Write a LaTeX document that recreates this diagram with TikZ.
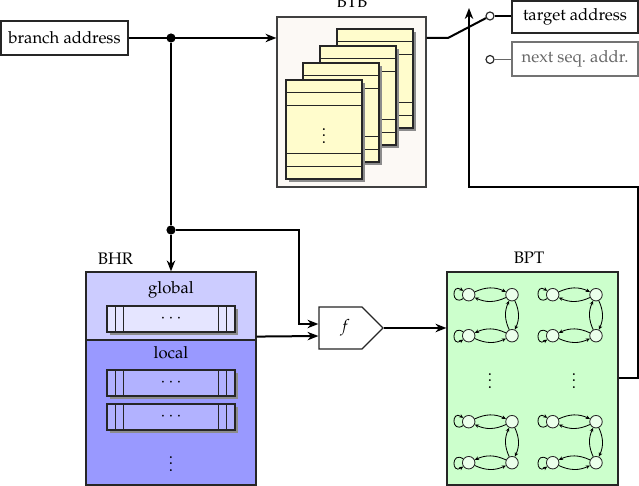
\documentclass[tikz,border=0pt]{standalone}
\usepackage[T1]{fontenc}
\usepackage{mathpazo}
\usetikzlibrary{arrows.meta,shapes.symbols,shadows,calc}
\def\pxu{0.6pt}
\tikzset{
  sz/.style 2 args={minimum width=#1*\pxu, minimum height=#2*\pxu},
  box/.style={draw=black!85, line width=0.7pt, inner sep=0pt},
  wire/.style={line width=1.2pt},
  arr/.style={wire, -{Stealth[length=6.5pt,width=5pt,inset=2pt]}},
  junc/.style={circle, fill=black, minimum size=5.5pt, inner sep=0pt},
  shd/.style={drop shadow={shadow xshift=1.8pt, shadow yshift=-1.8pt, fill=black!45, opacity=1}},
  tbl/.style={box, fill=yellow!20, shd},
  tline/.style={line width=0.7pt, draw=black!85},
  regbar/.style={box, shd},
  st/.style={circle, draw=black!85, line width=0.5pt, fill=green!8, minimum size=12.5*\pxu, inner sep=0pt},
  trn/.style={line width=0.5pt, -{Stealth[length=2.5pt,width=2.2pt]}},
  sc/.style={circle, draw=black!85, line width=0.7pt, fill=white, minimum size=8*\pxu, inner sep=0pt},
}
\begin{document}
\begin{tikzpicture}[x=0.6pt,y=-0.6pt]
\useasboundingbox (0,0) rectangle (639,486);

% branch address
\node[box, sz={127}{34}, fill=white] (addr) at (64.5,38) {branch address};

% BTB
\node[draw=black!75, line width=0.7pt, fill=brown!5, sz={149}{170}] (btb) at (351.5,102) {};
\node[anchor=base] (btblab) at (352,8) {BTB};
\foreach \i/\cx/\cy in {4/375/78.5, 3/358/95.5, 2/341/112.5, 1/324/129.5}{
  \node[tbl, sz={76}{99}] (t\i) at (\cx,\cy) {};
  \draw[tline] ($(t\i.north west)+(0,13)$) -- ($(t\i.north east)+(0,13)$);
  \draw[tline] ($(t\i.north west)+(0,26)$) -- ($(t\i.north east)+(0,26)$);
  \draw[tline] ($(t\i.south west)+(0,-26)$) -- ($(t\i.south east)+(0,-26)$);
  \draw[tline] ($(t\i.south west)+(0,-13)$) -- ($(t\i.south east)+(0,-13)$);
}
\node (tdots) at (324,131) {$\vdots$};

% BHR
\node[box, fill=blue!20, sz={170}{68}] (bhrg) at (171,306) {};
\node[box, fill=blue!40, sz={170}{145}] (bhrl) at (171,412.5) {};
\node[anchor=base] (bhrlab) at (115.5,265) {BHR};
\node[anchor=base] (glab) at (171,294) {global};
\node[anchor=base] (llab) at (171,359) {local};
\foreach \n/\y/\c in {gb/319/blue!10, lb1/383/blue!30, lb2/417/blue!30}{
  \node[regbar, fill=\c, sz={128}{26}] (\n) at (171,\y) {$\cdots$};
  \draw[tline] ($(\n.north west)+(9,0)$) -- ($(\n.south west)+(9,0)$);
  \draw[tline] ($(\n.north west)+(17,0)$) -- ($(\n.south west)+(17,0)$);
  \draw[tline] ($(\n.north east)+(-17,0)$) -- ($(\n.south east)+(-17,0)$);
  \draw[tline] ($(\n.north east)+(-9,0)$) -- ($(\n.south east)+(-9,0)$);
}
\node (ldots) at (171,459) {$\vdots$};

% f
\node[draw=black!85, line width=0.7pt, fill=white, shape=signal, signal to=east,
      signal pointer angle=90, sz={64}{42}, inner sep=0pt] (f) at (340.5,328) {};
\node (flab) at (345,328) {$f$};

% BPT
\node[box, fill=green!20, sz={171}{213}] (bpt) at (532.5,378.5) {};
\node[anchor=base] (bptlab) at (529,264) {BPT};
\foreach \c in {0,1}{\foreach \r in {0,1}{
  \pgfmathsetmacro\ox{468.7+84*\c}
  \pgfmathsetmacro\oy{294.7+127*\r}
  \node[st] (a\c\r) at (\ox,\oy) {};
  \node[st] (b\c\r) at (\ox+43.3,\oy) {};
  \node[st] (c\c\r) at (\ox+43.3,\oy+41) {};
  \node[st] (d\c\r) at (\ox,\oy+41) {};
  \draw[trn] (a\c\r) to[bend left=25] (b\c\r);
  \draw[trn] (b\c\r) to[bend left=25] (a\c\r);
  \draw[trn] (b\c\r) to[bend left=25] (c\c\r);
  \draw[trn] (c\c\r) to[bend left=25] (b\c\r);
  \draw[trn] (c\c\r) to[bend right=25] (d\c\r);
  \draw[trn] (d\c\r) to[bend right=25] (c\c\r);
  \draw[trn] (a\c\r.215) .. controls +(-12,8) and +(-12,-8) .. (a\c\r.145);
  \draw[trn] (d\c\r.145) .. controls +(-12,-8) and +(-12,8) .. (d\c\r.215);
}}
\node (pd1) at (490,376) {$\vdots$};
\node (pd2) at (574,376) {$\vdots$};

% output selection
\node[box, sz={126}{32}] (tgt) at (575,17) {target address};
\node[draw=black!55, line width=0.7pt, inner sep=0pt, sz={126}{34}, text=black!60] (nxt) at (575,59) {next seq.\ addr.};
\node[sc] (c1) at (490,16) {};
\node[sc] (c2) at (490,59.5) {};
\draw[line width=0.7pt] (c1) -- (c1 -| tgt.west);
\draw[line width=0.7pt, draw=black!60] (c2) -- (c2 -| nxt.west);

% connectors
\node[junc] (j1) at (171,38) {};
\node[junc] (j2) at (171,230) {};
\coordinate (k1) at (299,230);
\coordinate (k2) at (448,38);
\coordinate (r1) at (638,187);
\coordinate (sw) at (469,8);
\draw[arr] (addr.east) -- (addr.east -| btb.west);
\draw[wire] (j1) -- (j2);
\draw[arr] (j2) -- (bhrg.north);
\draw[arr] (j2) -- (k1) |- ($(f.west)+(0,-4)$);
\draw[arr] ($(bhrg.south east)+(0,-4)$) -- ($(f.west)+(0,8)$);
\draw[arr] (f.east) -- (f.east -| bpt.west);
\draw[wire] (btb.east |- addr.east) -- (k2) -- (c1);
\draw[arr] (bpt.east) -| (r1) -| (sw);
\end{tikzpicture}
\end{document}
